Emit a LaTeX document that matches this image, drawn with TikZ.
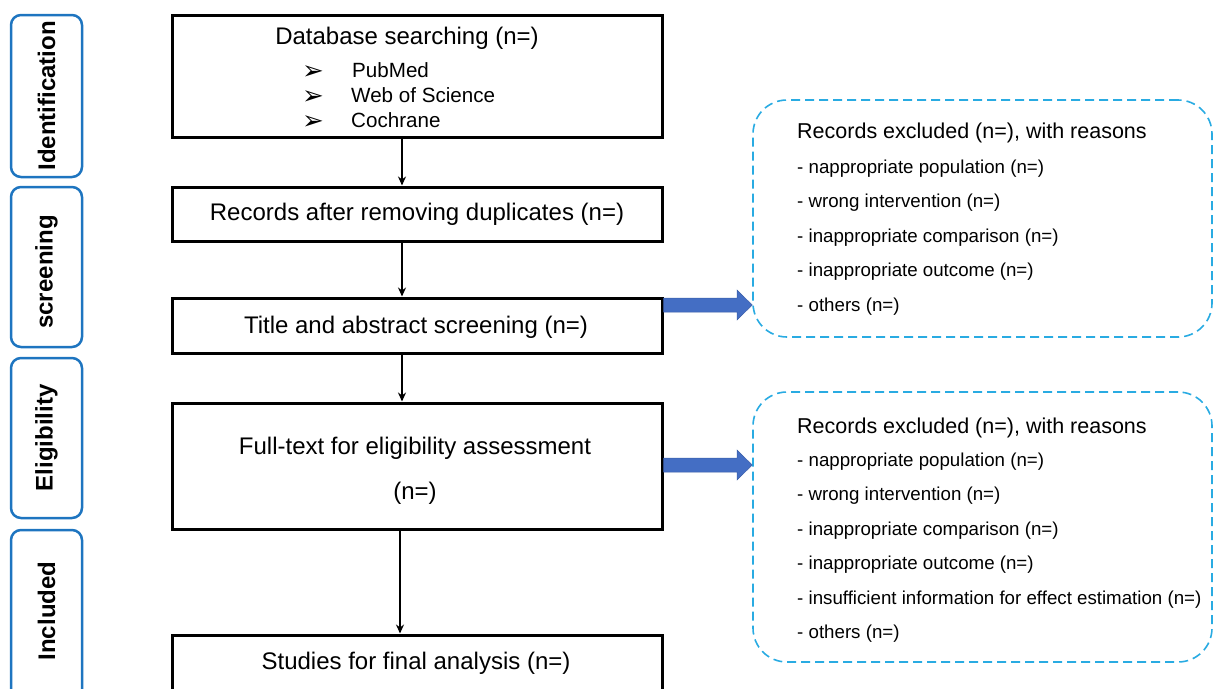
\documentclass[tikz,border=0pt]{standalone}
\usepackage{fontspec}
\setmainfont{Liberation Sans}
\newfontfamily\symfont{DejaVu Sans}
\usetikzlibrary{arrows.meta}
\definecolor{sidebl}{RGB}{30,117,192}
\definecolor{dashbl}{RGB}{41,171,226}
\definecolor{fatbl}{RGB}{68,110,196}
\begin{document}
\begin{tikzpicture}[x=1pt,y=-1pt,
 stage/.style={draw=sidebl, line width=2.5pt, rounded corners=10pt, minimum width=71pt, inner sep=0pt},
 stagetext/.style={rotate=90, font=\fontsize{24}{28}\selectfont\bfseries, inner sep=0pt},
 mainbox/.style={draw=black, line width=3pt, minimum width=490pt, inner sep=0pt, font=\fontsize{24}{28}\selectfont},
 maintext/.style={font=\fontsize{24}{28}\selectfont, inner sep=0pt},
 listtext/.style={font=\fontsize{20.6}{24}\selectfont, inner sep=0pt, anchor=west},
 bullet/.style={font=\symfont\fontsize{26}{28}\selectfont, inner sep=0pt},
 exbox/.style={draw=dashbl, line width=1.6pt, dash pattern=on 9pt off 5pt, rounded corners=34pt, minimum width=459pt, inner sep=0pt},
 exhead/.style={font=\fontsize{21.5}{25}\selectfont, anchor=west, inner sep=0pt},
 exitem/.style={font=\fontsize{18.7}{22}\selectfont, anchor=west, inner sep=0pt},
 flow/.style={-{Stealth[length=9pt,width=8pt]}, line width=1.5pt},
 fatarrow/.style={fill=fatbl, draw=fatbl!85!black, line width=0.5pt}
]
\useasboundingbox (0,0) rectangle (1214,688);

% stage labels
\node[stage, minimum height=162pt] (sid) at (46.5,96) {};
\node[stagetext] (tid) at (46.5,96) {Identification};
\node[stage, minimum height=160pt] (sscr) at (46.5,267) {};
\node[stagetext] (tscr) at (46.5,272) {screening};
\node[stage, minimum height=160pt] (selig) at (46.5,438) {};
\node[stagetext] (telig) at (46.5,438) {Eligibility};
\node[stage, minimum height=180pt] (sinc) at (46.5,620) {};
\node[stagetext] (tinc) at (46.5,611) {Included};

% main boxes
\node[mainbox, minimum height=122pt] (db) at (417,76) {};
\node[maintext] (tdb) at (407,38) {Database searching (n=)};
\node[bullet] (b1) at (313,73) {➢};
\node[bullet] (b2) at (313,98) {➢};
\node[bullet] (b3) at (313,123) {➢};
\node[listtext] (l1) at (352,70) {PubMed};
\node[listtext] (l2) at (351,95) {Web of Science};
\node[listtext] (l3) at (351,120) {Cochrane};

\node[mainbox, minimum height=54pt] (rec) at (417,214) {Records after removing duplicates (n=)};
\node[mainbox, minimum height=55pt] (tas) at (417,325.5) {};
\node[maintext] (ttas) at (416,327) {Title and abstract screening (n=)};
\node[mainbox, minimum height=126pt] (full) at (417,466) {};
\node[maintext] (tfull1) at (415,448) {Full-text for eligibility assessment};
\node[maintext] (tfull2) at (415,493) {(n=)};
\node[mainbox, minimum height=75pt] (stud) at (417,672.5) {};
\node[maintext] (tstud) at (416,663) {Studies for final analysis (n=)};

% flow arrows
\coordinate (cx) at (402,0);
\coordinate (cy) at (400,0);
\draw[flow] (db.south -| cx) -- (rec.north -| cx);
\draw[flow] (rec.south -| cx) -- (tas.north -| cx);
\draw[flow] (tas.south -| cx) -- (full.north -| cx);
\draw[flow] (full.south -| cy) -- (stud.north -| cy);

% exclusion boxes
\node[exbox, minimum height=237pt] (ex1) at (982.5,218.5) {};
\node[exhead] (h1) at (797,133) {Records excluded (n=), with reasons};
\node[exitem] (a1) at (797,169) {- nappropriate population (n=)};
\node[exitem] (a2) at (797,203) {- wrong intervention (n=)};
\node[exitem] (a3) at (797,238) {- inappropriate comparison (n=)};
\node[exitem] (a4) at (797,272) {- inappropriate outcome (n=)};
\node[exitem] (a5) at (797,307) {- others (n=)};

\node[exbox, minimum height=270pt] (ex2) at (982.5,527) {};
\node[exhead] (h2) at (797,428) {Records excluded (n=), with reasons};
\node[exitem] (c1) at (797,462) {- nappropriate population (n=)};
\node[exitem] (c2) at (797,496) {- wrong intervention (n=)};
\node[exitem] (c3) at (797,531) {- inappropriate comparison (n=)};
\node[exitem] (c4) at (797,565) {- inappropriate outcome (n=)};
\node[exitem] (c5) at (797,600) {- insufficient information for effect estimation (n=)};
\node[exitem] (c6) at (797,634) {- others (n=)};

% block arrows
\filldraw[fatarrow] (tas.east |- 0,298) -- (737,298) -- (737,290) -- (ex1.west |- 0,305)
  -- (737,320) -- (737,312) -- (tas.east |- 0,312) -- cycle;
\filldraw[fatarrow] (full.east |- 0,458) -- (737,458) -- (737,450) -- (ex2.west |- 0,465)
  -- (737,480) -- (737,472) -- (full.east |- 0,472) -- cycle;
\end{tikzpicture}
\end{document}
